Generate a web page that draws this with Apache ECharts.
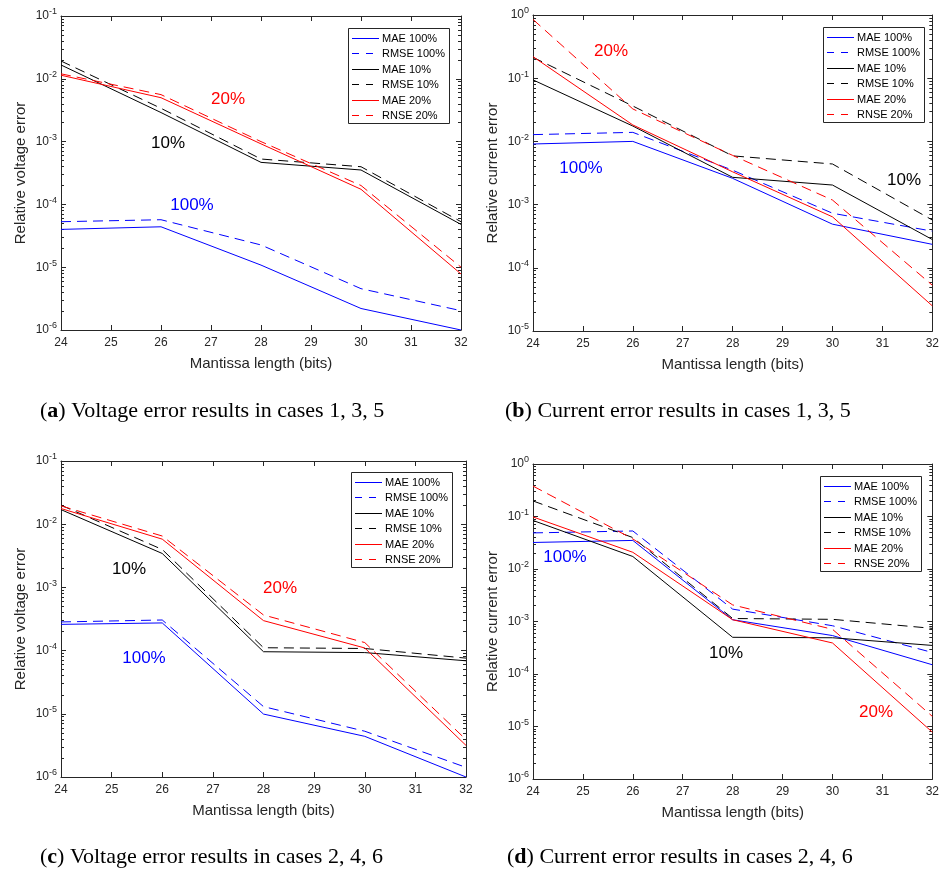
<!DOCTYPE html>
<html lang="en">
<head>
    <meta charset="utf-8">
    <title>Mantissa length error results</title>
    <script src="https://cdn.jsdelivr.net/npm/echarts@6.0.0/dist/echarts.min.js"></script>
    <style>
        body { margin: 0; background: #fff; }
    </style>
</head>
<body>
<div id="main" style="width: 942px;height:877px;"></div>

<script type="text/javascript">
    // x values (bits) shared by every panel
    var mantissa = [24, 26, 28, 30, 32];
    var xTicks = [24, 25, 26, 27, 28, 29, 30, 31, 32];
    var seriesNames = ['MAE 100%', 'RMSE 100%', 'MAE 10%', 'RMSE 10%', 'MAE 20%', 'RNSE 20%'];

    // (a) voltage, cases 1, 3, 5
    var aMae100  = [4.0e-5, 4.4e-5, 1.08e-5, 2.2e-6, 1.0e-6];
    var aRmse100 = [5.3e-5, 5.7e-5, 2.26e-5, 4.55e-6, 2.03e-6];
    var aMae10   = [1.66e-2, 2.9e-3, 4.67e-4, 3.53e-4, 4.8e-5];
    var aRmse10  = [1.92e-2, 3.39e-3, 5.28e-4, 3.98e-4, 5.3e-5];
    var aMae20   = [1.14e-2, 5.0e-3, 9.2e-4, 1.74e-4, 7.8e-6];
    var aRnse20  = [1.2e-2, 5.6e-3, 1.0e-3, 2.0e-4, 1.0e-5];

    // (b) current, cases 1, 3, 5
    var bMae100  = [9.1e-3, 1.0e-2, 2.6e-3, 4.9e-4, 2.35e-4];
    var bRmse100 = [1.28e-2, 1.39e-2, 3.5e-3, 7.3e-4, 3.8e-4];
    var bMae10   = [9.4e-2, 1.75e-2, 2.7e-3, 2.04e-3, 2.8e-4];
    var bRmse10  = [0.214, 3.63e-2, 5.9e-3, 4.39e-3, 5.7e-4];
    var bMae20   = [0.219, 1.82e-2, 3.3e-3, 6.4e-4, 2.5e-5];
    var bRnse20  = [0.85, 3.26e-2, 6.0e-3, 1.18e-3, 5.3e-5];

    // (c) voltage, cases 2, 4, 6
    var cMae100  = [2.6e-4, 2.74e-4, 9.9e-6, 4.4e-6, 1.0e-6];
    var cRmse100 = [2.84e-4, 3.05e-4, 1.3e-5, 5.3e-6, 1.42e-6];
    var cMae10   = [1.7e-2, 3.44e-3, 9.6e-5, 9.3e-5, 6.9e-5];
    var cRmse10  = [2.0e-2, 3.98e-3, 1.11e-4, 1.08e-4, 7.6e-5];
    var cMae20   = [1.77e-2, 5.8e-3, 2.98e-4, 1.1e-4, 3.16e-6];
    var cRnse20  = [1.95e-2, 6.5e-3, 3.66e-4, 1.34e-4, 3.9e-6];

    // (d) current, cases 2, 4, 6
    var dMae100  = [3.2e-2, 3.5e-2, 1.08e-3, 5.4e-4, 1.5e-4];
    var dRmse100 = [4.87e-2, 5.3e-2, 1.72e-3, 8.3e-4, 2.57e-4];
    var dMae10   = [8.4e-2, 1.73e-2, 5.0e-4, 4.9e-4, 3.5e-4];
    var dRmse10  = [0.198, 3.97e-2, 1.14e-3, 1.1e-3, 7.4e-4];
    var dMae20   = [9.8e-2, 2.08e-2, 1.08e-3, 3.9e-4, 7.8e-6];
    var dRnse20  = [0.38, 3.74e-2, 2.07e-3, 7.1e-4, 1.56e-5];

    // y tick labels are powers of ten: exponent ranges
    var voltExps = [-6, -5, -4, -3, -2, -1];
    var currExpsB = [-5, -4, -3, -2, -1, 0];
    var currExpsD = [-6, -5, -4, -3, -2, -1, 0];

    var lineColors = ['#0000ff', '#0000ff', '#000000', '#000000', '#ff0000', '#ff0000'];
    var dashed = [false, true, false, true, false, true];

    var axisGray = '#262626';
    var sans = 'Liberation Sans, Arial, sans-serif';
    var dash = [10, 6];

    var panels = [
        { grid: {left: 61, top: 16, width: 400, height: 314}, exps: voltExps, yName: 'Relative voltage error',
          data: [aMae100, aRmse100, aMae10, aRmse10, aMae20, aRnse20], legend: [348, 28],
          notes: [['20%', 228, 99, '#ff0000'], ['10%', 168, 143, '#000'], ['100%', 192, 205, '#0000ff']] },
        { grid: {left: 533, top: 15, width: 404, height: 316}, exps: currExpsB, yName: 'Relative current error',
          data: [bMae100, bRmse100, bMae10, bRmse10, bMae20, bRnse20], legend: [823, 27],
          notes: [['20%', 611, 51, '#ff0000'], ['100%', 581, 168, '#0000ff'], ['10%', 904, 180, '#000']] },
        { grid: {left: 61, top: 461, width: 405, height: 316}, exps: voltExps, yName: 'Relative voltage error',
          data: [cMae100, cRmse100, cMae10, cRmse10, cMae20, cRnse20], legend: [351, 472],
          notes: [['10%', 129, 569, '#000'], ['20%', 280, 588, '#ff0000'], ['100%', 144, 658, '#0000ff']] },
        { grid: {left: 533, top: 464, width: 403, height: 315}, exps: currExpsD, yName: 'Relative current error',
          data: [dMae100, dRmse100, dMae10, dRmse10, dMae20, dRnse20], legend: [820, 476],
          notes: [['100%', 565, 557, '#0000ff'], ['10%', 726, 653, '#000'], ['20%', 876, 712, '#ff0000']] }
    ];

    var captions = [
        ['a', 'Voltage error results in cases 1, 3, 5', 40, 411],
        ['b', 'Current error results in cases 1, 3, 5', 505, 411],
        ['c', 'Voltage error results in cases 2, 4, 6', 40, 857],
        ['d', 'Current error results in cases 2, 4, 6', 507, 857]
    ];

    function minorTicks(exps) {
        var out = [];
        for (var i = 0; i < exps.length - 1; i++) {
            for (var k = 2; k <= 9; k++) out.push(exps[i] + Math.log10(k));
        }
        return out;
    }

    // MATLAB-style boxed legend (line sample + text per row)
    function legendBox(x, y) {
        var kids = [{
            type: 'rect', shape: {x: x + 0.5, y: y + 0.5, width: 101, height: 95},
            style: {fill: '#fff', stroke: axisGray, lineWidth: 1}
        }];
        seriesNames.forEach(function (n, j) {
            var cy = Math.round(y + 10 + j * 15.4) + 0.5;
            kids.push({
                type: 'line', shape: {x1: x + 4, y1: cy, x2: x + 31, y2: cy},
                style: {stroke: lineColors[j], fill: null, lineWidth: 1, lineDash: dashed[j] ? [7, 7] : null}
            });
            kids.push({
                type: 'text', x: x + 34, y: cy,
                style: {text: n, fill: '#000', font: '11px ' + sans, textVerticalAlign: 'middle'}
            });
        });
        return {type: 'group', z: 20, children: kids};
    }

    var grids = [], xAxes = [], yAxes = [], series = [], graphics = [];

    panels.forEach(function (p, i) {
        grids.push(p.grid);
        var lo = p.exps[0], hi = p.exps[p.exps.length - 1];

        // x: bottom with labels, top for the box ticks
        ['bottom', 'top'].forEach(function (pos) {
            xAxes.push({
                type: 'value', gridIndex: i, position: pos, min: 24, max: 32, interval: 1,
                name: pos === 'bottom' ? 'Mantissa length (bits)' : '',
                nameLocation: 'middle', nameGap: 26,
                nameTextStyle: {fontSize: 15, color: axisGray, fontFamily: sans},
                axisLine: {onZero: false, lineStyle: {color: axisGray, width: 1}},
                axisTick: {inside: true, length: 5, lineStyle: {color: axisGray}},
                axisLabel: {show: pos === 'bottom', fontSize: 12, color: axisGray, fontFamily: sans, margin: 7,
                    customValues: xTicks},
                splitLine: {show: false}
            });
        });

        // log axis that carries the data
        yAxes.push({
            type: 'log', gridIndex: i, min: Math.pow(10, lo), max: Math.pow(10, hi),
            axisLine: {show: false, onZero: false}, axisTick: {show: false}, axisLabel: {show: false},
            splitLine: {show: false}
        });
        // decade ticks and 10^n labels, left and right
        ['left', 'right'].forEach(function (pos) {
            yAxes.push({
                type: 'value', gridIndex: i, position: pos, min: lo, max: hi, interval: 1,
                name: pos === 'left' ? p.yName : '',
                nameLocation: 'middle', nameGap: 33,
                nameTextStyle: {fontSize: 15, color: axisGray, fontFamily: sans},
                axisLine: {onZero: false, lineStyle: {color: axisGray, width: 1}},
                axisTick: {inside: true, length: 5, lineStyle: {color: axisGray}},
                axisLabel: {
                    show: pos === 'left', margin: 4,
                    formatter: function (v) { return '{b|10}{s|' + v + '}'; },
                    rich: {
                        b: {fontSize: 12, color: axisGray, fontFamily: sans},
                        s: {fontSize: 9, color: axisGray, fontFamily: sans, padding: [0, 0, 8, 0]}
                    }
                },
                splitLine: {show: false}
            });
        });
        // minor ticks (2..9 of every decade)
        ['left', 'right'].forEach(function (pos) {
            yAxes.push({
                type: 'value', gridIndex: i, position: pos, min: lo, max: hi,
                axisLine: {show: false, onZero: false},
                axisTick: {inside: true, length: 3, lineStyle: {color: axisGray}, customValues: minorTicks(p.exps)},
                axisLabel: {show: false},
                splitLine: {show: false}
            });
        });

        p.data.forEach(function (vals, j) {
            series.push({
                name: seriesNames[j], type: 'line', xAxisIndex: 2 * i, yAxisIndex: 5 * i,
                data: vals.map(function (v, k) { return [mantissa[k], v]; }),
                symbol: 'none', silent: true,
                lineStyle: {color: lineColors[j], width: 1, type: dashed[j] ? dash : 'solid'},
                itemStyle: {color: lineColors[j]}
            });
        });

        graphics.push(legendBox(p.legend[0], p.legend[1]));

        p.notes.forEach(function (n) {
            graphics.push({
                type: 'text', x: n[1], y: n[2], z: 10,
                style: {text: n[0], fill: n[3], font: '17px ' + sans, textAlign: 'center', textVerticalAlign: 'middle'}
            });
        });
    });

    captions.forEach(function (c) {
        graphics.push({
            type: 'text', x: c[2], y: c[3],
            style: {
                text: '({b|' + c[0] + '}) ' + c[1],
                font: '22px "Liberation Serif", serif', fill: '#000', textVerticalAlign: 'middle',
                rich: {b: {fontWeight: 'bold', fontSize: 22, fontFamily: 'Liberation Serif'}}
            }
        });
    });

    var myChart = echarts.init(document.getElementById('main'));
    var option = {
        backgroundColor: '#fff',
        animation: false,
        grid: grids,
        xAxis: xAxes,
        yAxis: yAxes,
        series: series,
        graphic: graphics
    };
    option && myChart.setOption(option);
</script>
</body>
</html>
